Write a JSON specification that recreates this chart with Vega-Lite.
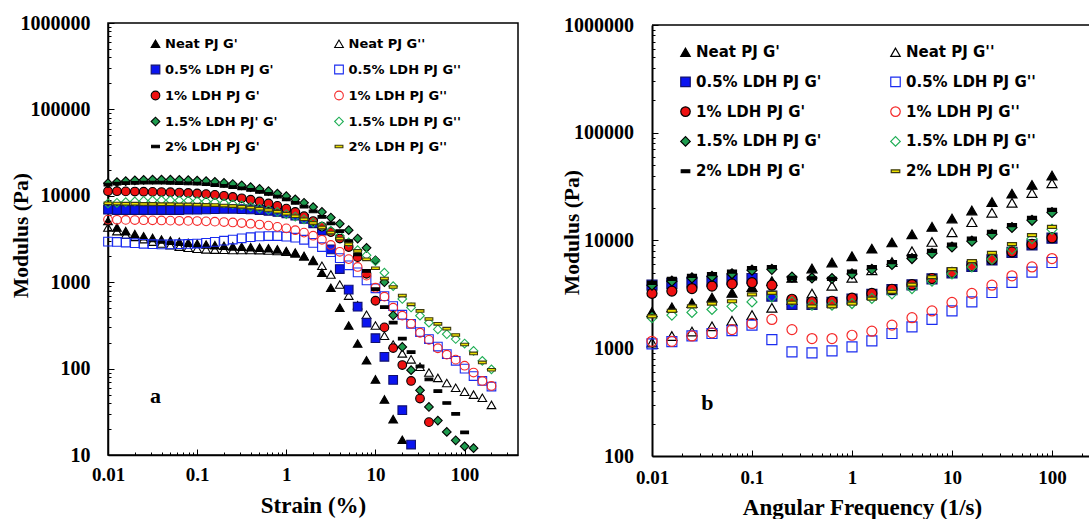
{
"$schema":"https://vega.github.io/schema/vega-lite/v6.json",
"background":"white",
"padding":{"left":9,"top":12,"right":0,"bottom":0},
"config":{
 "view":{"stroke":"black","strokeWidth":1.5},
 "axis":{"labelFont":"Liberation Serif","labelFontWeight":"bold","titleFont":"Liberation Serif","titleFontWeight":"bold","labelColor":"black","titleColor":"black","domainColor":"black","domainWidth":1.5,"tickColor":"black","tickWidth":1,"grid":false,"labelOverlap":false,"labelFlush":false}
},
"datasets":{
"a":[
{"s":"N1","x":0.01,"y":5100},{"s":"N1","x":0.0126,"y":4300},{"s":"N1","x":0.0158,"y":3900},{"s":"N1","x":0.02,"y":3600},{"s":"N1","x":0.0251,"y":3400},{"s":"N1","x":0.0316,"y":3250},{"s":"N1","x":0.0398,"y":3120},{"s":"N1","x":0.0501,"y":3030},{"s":"N1","x":0.0631,"y":2940},{"s":"N1","x":0.0794,"y":2860},{"s":"N1","x":0.1,"y":2790},{"s":"N1","x":0.126,"y":2730},{"s":"N1","x":0.158,"y":2680},{"s":"N1","x":0.2,"y":2640},{"s":"N1","x":0.251,"y":2600},{"s":"N1","x":0.316,"y":2570},{"s":"N1","x":0.398,"y":2540},{"s":"N1","x":0.501,"y":2510},{"s":"N1","x":0.631,"y":2470},{"s":"N1","x":0.794,"y":2400},{"s":"N1","x":1,"y":2290},{"s":"N1","x":1.26,"y":2200},{"s":"N1","x":1.58,"y":2000},{"s":"N1","x":2,"y":1760},{"s":"N1","x":2.51,"y":1290},{"s":"N1","x":3.16,"y":863},{"s":"N1","x":3.98,"y":507},{"s":"N1","x":5.01,"y":315},{"s":"N1","x":6.31,"y":195},{"s":"N1","x":7.94,"y":125},{"s":"N1","x":10,"y":75},{"s":"N1","x":12.6,"y":44},{"s":"N1","x":15.8,"y":26},{"s":"N1","x":20,"y":15},
{"s":"N2","x":0.01,"y":4300},{"s":"N2","x":0.0126,"y":3900},{"s":"N2","x":0.0158,"y":3550},{"s":"N2","x":0.02,"y":3350},{"s":"N2","x":0.0251,"y":3150},{"s":"N2","x":0.0316,"y":2950},{"s":"N2","x":0.0398,"y":2800},{"s":"N2","x":0.0501,"y":2680},{"s":"N2","x":0.0631,"y":2580},{"s":"N2","x":0.0794,"y":2500},{"s":"N2","x":0.1,"y":2440},{"s":"N2","x":0.126,"y":2400},{"s":"N2","x":0.158,"y":2380},{"s":"N2","x":0.2,"y":2370},{"s":"N2","x":0.251,"y":2360},{"s":"N2","x":0.316,"y":2360},{"s":"N2","x":0.398,"y":2360},{"s":"N2","x":0.501,"y":2350},{"s":"N2","x":0.631,"y":2330},{"s":"N2","x":0.794,"y":2300},{"s":"N2","x":1,"y":2250},{"s":"N2","x":1.26,"y":2150},{"s":"N2","x":1.58,"y":2000},{"s":"N2","x":2,"y":1800},{"s":"N2","x":2.51,"y":1550},{"s":"N2","x":3.16,"y":1230},{"s":"N2","x":3.98,"y":940},{"s":"N2","x":5.01,"y":700},{"s":"N2","x":6.31,"y":540},{"s":"N2","x":7.94,"y":420},{"s":"N2","x":10,"y":315},{"s":"N2","x":12.6,"y":240},{"s":"N2","x":15.8,"y":190},{"s":"N2","x":20,"y":150},{"s":"N2","x":25.1,"y":128},{"s":"N2","x":31.6,"y":105},{"s":"N2","x":39.8,"y":90},{"s":"N2","x":50.1,"y":78},{"s":"N2","x":63.1,"y":68},{"s":"N2","x":79.4,"y":60},{"s":"N2","x":100,"y":54},{"s":"N2","x":126,"y":50},{"s":"N2","x":158,"y":46},{"s":"N2","x":200,"y":38},
{"s":"A1","x":0.01,"y":6900},{"s":"A1","x":0.0126,"y":6850},{"s":"A1","x":0.0158,"y":6850},{"s":"A1","x":0.02,"y":6850},{"s":"A1","x":0.0251,"y":6850},{"s":"A1","x":0.0316,"y":6850},{"s":"A1","x":0.0398,"y":6850},{"s":"A1","x":0.0501,"y":6850},{"s":"A1","x":0.0631,"y":6850},{"s":"A1","x":0.0794,"y":6900},{"s":"A1","x":0.1,"y":6900},{"s":"A1","x":0.126,"y":6950},{"s":"A1","x":0.158,"y":7000},{"s":"A1","x":0.2,"y":7050},{"s":"A1","x":0.251,"y":7050},{"s":"A1","x":0.316,"y":7000},{"s":"A1","x":0.398,"y":6950},{"s":"A1","x":0.501,"y":6850},{"s":"A1","x":0.631,"y":6700},{"s":"A1","x":0.794,"y":6500},{"s":"A1","x":1,"y":6250},{"s":"A1","x":1.26,"y":5900},{"s":"A1","x":1.58,"y":5400},{"s":"A1","x":2,"y":4800},{"s":"A1","x":2.51,"y":3950},{"s":"A1","x":3.16,"y":2400},{"s":"A1","x":3.98,"y":1420},{"s":"A1","x":5.01,"y":820},{"s":"A1","x":6.31,"y":520},{"s":"A1","x":7.94,"y":340},{"s":"A1","x":10,"y":225},{"s":"A1","x":12.6,"y":137},{"s":"A1","x":15.8,"y":74},{"s":"A1","x":20,"y":33},{"s":"A1","x":25.1,"y":13.2},
{"s":"A2","x":0.01,"y":2950},{"s":"A2","x":0.0126,"y":2920},{"s":"A2","x":0.0158,"y":2880},{"s":"A2","x":0.02,"y":2830},{"s":"A2","x":0.0251,"y":2780},{"s":"A2","x":0.0316,"y":2750},{"s":"A2","x":0.0398,"y":2740},{"s":"A2","x":0.0501,"y":2740},{"s":"A2","x":0.0631,"y":2750},{"s":"A2","x":0.0794,"y":2770},{"s":"A2","x":0.1,"y":2800},{"s":"A2","x":0.126,"y":2850},{"s":"A2","x":0.158,"y":2930},{"s":"A2","x":0.2,"y":3020},{"s":"A2","x":0.251,"y":3120},{"s":"A2","x":0.316,"y":3220},{"s":"A2","x":0.398,"y":3320},{"s":"A2","x":0.501,"y":3390},{"s":"A2","x":0.631,"y":3420},{"s":"A2","x":0.794,"y":3420},{"s":"A2","x":1,"y":3370},{"s":"A2","x":1.26,"y":3270},{"s":"A2","x":1.58,"y":3100},{"s":"A2","x":2,"y":2850},{"s":"A2","x":2.51,"y":2550},{"s":"A2","x":3.16,"y":2230},{"s":"A2","x":3.98,"y":1900},{"s":"A2","x":5.01,"y":1570},{"s":"A2","x":6.31,"y":1300},{"s":"A2","x":7.94,"y":1050},{"s":"A2","x":10,"y":850},{"s":"A2","x":12.6,"y":690},{"s":"A2","x":15.8,"y":530},{"s":"A2","x":20,"y":420},{"s":"A2","x":25.1,"y":330},{"s":"A2","x":31.6,"y":265},{"s":"A2","x":39.8,"y":220},{"s":"A2","x":50.1,"y":180},{"s":"A2","x":63.1,"y":147},{"s":"A2","x":79.4,"y":123},{"s":"A2","x":100,"y":100},{"s":"A2","x":126,"y":82},{"s":"A2","x":158,"y":72},{"s":"A2","x":200,"y":62},
{"s":"B1","x":0.01,"y":11300},{"s":"B1","x":0.0126,"y":11300},{"s":"B1","x":0.0158,"y":11250},{"s":"B1","x":0.02,"y":11200},{"s":"B1","x":0.0251,"y":11150},{"s":"B1","x":0.0316,"y":11100},{"s":"B1","x":0.0398,"y":11050},{"s":"B1","x":0.0501,"y":11000},{"s":"B1","x":0.0631,"y":10900},{"s":"B1","x":0.0794,"y":10800},{"s":"B1","x":0.1,"y":10650},{"s":"B1","x":0.126,"y":10450},{"s":"B1","x":0.158,"y":10250},{"s":"B1","x":0.2,"y":10000},{"s":"B1","x":0.251,"y":9700},{"s":"B1","x":0.316,"y":9350},{"s":"B1","x":0.398,"y":9000},{"s":"B1","x":0.501,"y":8600},{"s":"B1","x":0.631,"y":8150},{"s":"B1","x":0.794,"y":7650},{"s":"B1","x":1,"y":7100},{"s":"B1","x":1.26,"y":6500},{"s":"B1","x":1.58,"y":5800},{"s":"B1","x":2,"y":5100},{"s":"B1","x":2.51,"y":4400},{"s":"B1","x":3.16,"y":3800},{"s":"B1","x":3.98,"y":3200},{"s":"B1","x":5.01,"y":2550},{"s":"B1","x":6.31,"y":1950},{"s":"B1","x":7.94,"y":1250},{"s":"B1","x":10,"y":610},{"s":"B1","x":12.6,"y":300},{"s":"B1","x":15.8,"y":173},{"s":"B1","x":20,"y":110},{"s":"B1","x":25.1,"y":72},{"s":"B1","x":31.6,"y":45},{"s":"B1","x":39.8,"y":24},
{"s":"B2","x":0.01,"y":5300},{"s":"B2","x":0.0126,"y":5280},{"s":"B2","x":0.0158,"y":5260},{"s":"B2","x":0.02,"y":5240},{"s":"B2","x":0.0251,"y":5220},{"s":"B2","x":0.0316,"y":5200},{"s":"B2","x":0.0398,"y":5180},{"s":"B2","x":0.0501,"y":5160},{"s":"B2","x":0.0631,"y":5140},{"s":"B2","x":0.0794,"y":5120},{"s":"B2","x":0.1,"y":5100},{"s":"B2","x":0.126,"y":5060},{"s":"B2","x":0.158,"y":5020},{"s":"B2","x":0.2,"y":4970},{"s":"B2","x":0.251,"y":4910},{"s":"B2","x":0.316,"y":4840},{"s":"B2","x":0.398,"y":4750},{"s":"B2","x":0.501,"y":4650},{"s":"B2","x":0.631,"y":4520},{"s":"B2","x":0.794,"y":4370},{"s":"B2","x":1,"y":4200},{"s":"B2","x":1.26,"y":4000},{"s":"B2","x":1.58,"y":3750},{"s":"B2","x":2,"y":3450},{"s":"B2","x":2.51,"y":3100},{"s":"B2","x":3.16,"y":2700},{"s":"B2","x":3.98,"y":2250},{"s":"B2","x":5.01,"y":1850},{"s":"B2","x":6.31,"y":1500},{"s":"B2","x":7.94,"y":1190},{"s":"B2","x":10,"y":863},{"s":"B2","x":12.6,"y":680},{"s":"B2","x":15.8,"y":507},{"s":"B2","x":20,"y":410},{"s":"B2","x":25.1,"y":330},{"s":"B2","x":31.6,"y":260},{"s":"B2","x":39.8,"y":215},{"s":"B2","x":50.1,"y":172},{"s":"B2","x":63.1,"y":145},{"s":"B2","x":79.4,"y":127},{"s":"B2","x":100,"y":108},{"s":"B2","x":126,"y":90},{"s":"B2","x":158,"y":72},{"s":"B2","x":200,"y":63},
{"s":"C1","x":0.01,"y":14000},{"s":"C1","x":0.0126,"y":14400},{"s":"C1","x":0.0158,"y":14800},{"s":"C1","x":0.02,"y":15100},{"s":"C1","x":0.0251,"y":15300},{"s":"C1","x":0.0316,"y":15400},{"s":"C1","x":0.0398,"y":15400},{"s":"C1","x":0.0501,"y":15400},{"s":"C1","x":0.0631,"y":15300},{"s":"C1","x":0.0794,"y":15200},{"s":"C1","x":0.1,"y":15000},{"s":"C1","x":0.126,"y":14800},{"s":"C1","x":0.158,"y":14500},{"s":"C1","x":0.2,"y":14100},{"s":"C1","x":0.251,"y":13700},{"s":"C1","x":0.316,"y":13200},{"s":"C1","x":0.398,"y":12600},{"s":"C1","x":0.501,"y":12000},{"s":"C1","x":0.631,"y":11300},{"s":"C1","x":0.794,"y":10600},{"s":"C1","x":1,"y":9900},{"s":"C1","x":1.26,"y":9100},{"s":"C1","x":1.58,"y":8300},{"s":"C1","x":2,"y":7400},{"s":"C1","x":2.51,"y":6500},{"s":"C1","x":3.16,"y":5600},{"s":"C1","x":3.98,"y":4750},{"s":"C1","x":5.01,"y":4000},{"s":"C1","x":6.31,"y":3200},{"s":"C1","x":7.94,"y":2500},{"s":"C1","x":10,"y":1790},{"s":"C1","x":12.6,"y":1000},{"s":"C1","x":15.8,"y":414},{"s":"C1","x":20,"y":178},{"s":"C1","x":25.1,"y":96},{"s":"C1","x":31.6,"y":56},{"s":"C1","x":39.8,"y":36},{"s":"C1","x":50.1,"y":25},{"s":"C1","x":63.1,"y":18.5},{"s":"C1","x":79.4,"y":14.8},{"s":"C1","x":100,"y":12.6},{"s":"C1","x":126,"y":12},
{"s":"C2","x":0.01,"y":8150},{"s":"C2","x":0.0126,"y":8300},{"s":"C2","x":0.0158,"y":8450},{"s":"C2","x":0.02,"y":8600},{"s":"C2","x":0.0251,"y":8750},{"s":"C2","x":0.0316,"y":8850},{"s":"C2","x":0.0398,"y":8900},{"s":"C2","x":0.0501,"y":8900},{"s":"C2","x":0.0631,"y":8850},{"s":"C2","x":0.0794,"y":8800},{"s":"C2","x":0.1,"y":8700},{"s":"C2","x":0.126,"y":8600},{"s":"C2","x":0.158,"y":8450},{"s":"C2","x":0.2,"y":8250},{"s":"C2","x":0.251,"y":8000},{"s":"C2","x":0.316,"y":7750},{"s":"C2","x":0.398,"y":7450},{"s":"C2","x":0.501,"y":7150},{"s":"C2","x":0.631,"y":6850},{"s":"C2","x":0.794,"y":6500},{"s":"C2","x":1,"y":6150},{"s":"C2","x":1.26,"y":5750},{"s":"C2","x":1.58,"y":5350},{"s":"C2","x":2,"y":4900},{"s":"C2","x":2.51,"y":4450},{"s":"C2","x":3.16,"y":3950},{"s":"C2","x":3.98,"y":3450},{"s":"C2","x":5.01,"y":2900},{"s":"C2","x":6.31,"y":2350},{"s":"C2","x":7.94,"y":2050},{"s":"C2","x":10,"y":1750},{"s":"C2","x":12.6,"y":1290},{"s":"C2","x":15.8,"y":900},{"s":"C2","x":20,"y":640},{"s":"C2","x":25.1,"y":510},{"s":"C2","x":31.6,"y":410},{"s":"C2","x":39.8,"y":340},{"s":"C2","x":50.1,"y":285},{"s":"C2","x":63.1,"y":250},{"s":"C2","x":79.4,"y":220},{"s":"C2","x":100,"y":195},{"s":"C2","x":126,"y":160},{"s":"C2","x":158,"y":123},{"s":"C2","x":200,"y":98},
{"s":"D1","x":0.01,"y":13500},{"s":"D1","x":0.0126,"y":13800},{"s":"D1","x":0.0158,"y":14000},{"s":"D1","x":0.02,"y":14100},{"s":"D1","x":0.0251,"y":14200},{"s":"D1","x":0.0316,"y":14200},{"s":"D1","x":0.0398,"y":14200},{"s":"D1","x":0.0501,"y":14100},{"s":"D1","x":0.0631,"y":14000},{"s":"D1","x":0.0794,"y":13900},{"s":"D1","x":0.1,"y":13800},{"s":"D1","x":0.126,"y":13600},{"s":"D1","x":0.158,"y":13300},{"s":"D1","x":0.2,"y":13000},{"s":"D1","x":0.251,"y":12600},{"s":"D1","x":0.316,"y":12200},{"s":"D1","x":0.398,"y":11700},{"s":"D1","x":0.501,"y":11100},{"s":"D1","x":0.631,"y":10500},{"s":"D1","x":0.794,"y":9800},{"s":"D1","x":1,"y":9100},{"s":"D1","x":1.26,"y":8300},{"s":"D1","x":1.58,"y":7500},{"s":"D1","x":2,"y":6600},{"s":"D1","x":2.51,"y":5700},{"s":"D1","x":3.16,"y":4800},{"s":"D1","x":3.98,"y":3900},{"s":"D1","x":5.01,"y":3000},{"s":"D1","x":6.31,"y":2100},{"s":"D1","x":7.94,"y":1350},{"s":"D1","x":10,"y":830},{"s":"D1","x":12.6,"y":515},{"s":"D1","x":15.8,"y":340},{"s":"D1","x":20,"y":222},{"s":"D1","x":25.1,"y":155},{"s":"D1","x":31.6,"y":106},{"s":"D1","x":39.8,"y":75},{"s":"D1","x":50.1,"y":55},{"s":"D1","x":63.1,"y":40},{"s":"D1","x":79.4,"y":30},{"s":"D1","x":100,"y":18.3},
{"s":"D2","x":0.01,"y":8200},{"s":"D2","x":0.0126,"y":8150},{"s":"D2","x":0.0158,"y":8100},{"s":"D2","x":0.02,"y":8100},{"s":"D2","x":0.0251,"y":8050},{"s":"D2","x":0.0316,"y":8050},{"s":"D2","x":0.0398,"y":8000},{"s":"D2","x":0.0501,"y":8000},{"s":"D2","x":0.0631,"y":7950},{"s":"D2","x":0.0794,"y":7950},{"s":"D2","x":0.1,"y":7900},{"s":"D2","x":0.126,"y":7850},{"s":"D2","x":0.158,"y":7800},{"s":"D2","x":0.2,"y":7700},{"s":"D2","x":0.251,"y":7600},{"s":"D2","x":0.316,"y":7450},{"s":"D2","x":0.398,"y":7300},{"s":"D2","x":0.501,"y":7100},{"s":"D2","x":0.631,"y":6850},{"s":"D2","x":0.794,"y":6550},{"s":"D2","x":1,"y":6200},{"s":"D2","x":1.26,"y":5800},{"s":"D2","x":1.58,"y":5350},{"s":"D2","x":2,"y":4850},{"s":"D2","x":2.51,"y":4300},{"s":"D2","x":3.16,"y":3750},{"s":"D2","x":3.98,"y":3200},{"s":"D2","x":5.01,"y":2750},{"s":"D2","x":6.31,"y":2300},{"s":"D2","x":7.94,"y":1840},{"s":"D2","x":10,"y":1450},{"s":"D2","x":12.6,"y":1100},{"s":"D2","x":15.8,"y":880},{"s":"D2","x":20,"y":700},{"s":"D2","x":25.1,"y":555},{"s":"D2","x":31.6,"y":465},{"s":"D2","x":39.8,"y":375},{"s":"D2","x":50.1,"y":330},{"s":"D2","x":63.1,"y":290},{"s":"D2","x":79.4,"y":245},{"s":"D2","x":100,"y":190},{"s":"D2","x":126,"y":150},{"s":"D2","x":158,"y":118},{"s":"D2","x":200,"y":97}
],
"b":[
{"s":"N1","x":0.01,"y":2170},{"s":"N1","x":0.0158,"y":2400},{"s":"N1","x":0.0251,"y":2620},{"s":"N1","x":0.0398,"y":2950},{"s":"N1","x":0.0631,"y":3270},{"s":"N1","x":0.1,"y":3700},{"s":"N1","x":0.158,"y":4200},{"s":"N1","x":0.251,"y":4500},{"s":"N1","x":0.398,"y":5500},{"s":"N1","x":0.631,"y":6250},{"s":"N1","x":1,"y":7150},{"s":"N1","x":1.58,"y":8400},{"s":"N1","x":2.51,"y":9600},{"s":"N1","x":3.98,"y":11400},{"s":"N1","x":6.31,"y":13400},{"s":"N1","x":10,"y":16000},{"s":"N1","x":15.8,"y":19000},{"s":"N1","x":25.1,"y":22700},{"s":"N1","x":39.8,"y":27200},{"s":"N1","x":63.1,"y":32800},{"s":"N1","x":100,"y":40000},
{"s":"N2","x":0.01,"y":1130},{"s":"N2","x":0.0158,"y":1300},{"s":"N2","x":0.0251,"y":1430},{"s":"N2","x":0.0398,"y":1600},{"s":"N2","x":0.0631,"y":1800},{"s":"N2","x":0.1,"y":2030},{"s":"N2","x":0.158,"y":2370},{"s":"N2","x":0.251,"y":2800},{"s":"N2","x":0.398,"y":3220},{"s":"N2","x":0.631,"y":3800},{"s":"N2","x":1,"y":4500},{"s":"N2","x":1.58,"y":5300},{"s":"N2","x":2.51,"y":6300},{"s":"N2","x":3.98,"y":7950},{"s":"N2","x":6.31,"y":9700},{"s":"N2","x":10,"y":11900},{"s":"N2","x":15.8,"y":14800},{"s":"N2","x":25.1,"y":18100},{"s":"N2","x":39.8,"y":22400},{"s":"N2","x":63.1,"y":27600},{"s":"N2","x":100,"y":34000},
{"s":"A1","x":0.01,"y":3850},{"s":"A1","x":0.0158,"y":4000},{"s":"A1","x":0.0251,"y":4100},{"s":"A1","x":0.0398,"y":4190},{"s":"A1","x":0.0631,"y":4340},{"s":"A1","x":0.1,"y":4440},{"s":"A1","x":0.158,"y":3050},{"s":"A1","x":0.251,"y":2550},{"s":"A1","x":0.398,"y":2550},{"s":"A1","x":0.631,"y":2660},{"s":"A1","x":1,"y":2860},{"s":"A1","x":1.58,"y":3160},{"s":"A1","x":2.51,"y":3500},{"s":"A1","x":3.98,"y":3880},{"s":"A1","x":6.31,"y":4400},{"s":"A1","x":10,"y":5000},{"s":"A1","x":15.8,"y":5750},{"s":"A1","x":25.1,"y":6600},{"s":"A1","x":39.8,"y":7750},{"s":"A1","x":63.1,"y":9100},{"s":"A1","x":100,"y":10500},
{"s":"A2","x":0.01,"y":1100},{"s":"A2","x":0.0158,"y":1150},{"s":"A2","x":0.0251,"y":1300},{"s":"A2","x":0.0398,"y":1370},{"s":"A2","x":0.0631,"y":1460},{"s":"A2","x":0.1,"y":1640},{"s":"A2","x":0.158,"y":1200},{"s":"A2","x":0.251,"y":925},{"s":"A2","x":0.398,"y":905},{"s":"A2","x":0.631,"y":945},{"s":"A2","x":1,"y":1030},{"s":"A2","x":1.58,"y":1170},{"s":"A2","x":2.51,"y":1370},{"s":"A2","x":3.98,"y":1580},{"s":"A2","x":6.31,"y":1850},{"s":"A2","x":10,"y":2220},{"s":"A2","x":15.8,"y":2690},{"s":"A2","x":25.1,"y":3290},{"s":"A2","x":39.8,"y":4080},{"s":"A2","x":63.1,"y":5080},{"s":"A2","x":100,"y":6250},
{"s":"B1","x":0.01,"y":3230},{"s":"B1","x":0.0158,"y":3390},{"s":"B1","x":0.0251,"y":3580},{"s":"B1","x":0.0398,"y":3770},{"s":"B1","x":0.0631,"y":3960},{"s":"B1","x":0.1,"y":4060},{"s":"B1","x":0.158,"y":3850},{"s":"B1","x":0.251,"y":2850},{"s":"B1","x":0.398,"y":2700},{"s":"B1","x":0.631,"y":2730},{"s":"B1","x":1,"y":2920},{"s":"B1","x":1.58,"y":3230},{"s":"B1","x":2.51,"y":3530},{"s":"B1","x":3.98,"y":3900},{"s":"B1","x":6.31,"y":4440},{"s":"B1","x":10,"y":5050},{"s":"B1","x":15.8,"y":5810},{"s":"B1","x":25.1,"y":6670},{"s":"B1","x":39.8,"y":7850},{"s":"B1","x":63.1,"y":9200},{"s":"B1","x":100,"y":10600},
{"s":"B2","x":0.01,"y":1160},{"s":"B2","x":0.0158,"y":1160},{"s":"B2","x":0.0251,"y":1300},{"s":"B2","x":0.0398,"y":1390},{"s":"B2","x":0.0631,"y":1490},{"s":"B2","x":0.1,"y":1700},{"s":"B2","x":0.158,"y":1850},{"s":"B2","x":0.251,"y":1490},{"s":"B2","x":0.398,"y":1230},{"s":"B2","x":0.631,"y":1230},{"s":"B2","x":1,"y":1320},{"s":"B2","x":1.58,"y":1440},{"s":"B2","x":2.51,"y":1640},{"s":"B2","x":3.98,"y":1920},{"s":"B2","x":6.31,"y":2220},{"s":"B2","x":10,"y":2660},{"s":"B2","x":15.8,"y":3230},{"s":"B2","x":25.1,"y":3850},{"s":"B2","x":39.8,"y":4700},{"s":"B2","x":63.1,"y":5680},{"s":"B2","x":100,"y":6800},
{"s":"C1","x":0.01,"y":3850},{"s":"C1","x":0.0158,"y":4190},{"s":"C1","x":0.0251,"y":4490},{"s":"C1","x":0.0398,"y":4640},{"s":"C1","x":0.0631,"y":4910},{"s":"C1","x":0.1,"y":5300},{"s":"C1","x":0.158,"y":5400},{"s":"C1","x":0.251,"y":4580},{"s":"C1","x":0.398,"y":4490},{"s":"C1","x":0.631,"y":4440},{"s":"C1","x":1,"y":4900},{"s":"C1","x":1.58,"y":5400},{"s":"C1","x":2.51,"y":6000},{"s":"C1","x":3.98,"y":6800},{"s":"C1","x":6.31,"y":7600},{"s":"C1","x":10,"y":8700},{"s":"C1","x":15.8,"y":9860},{"s":"C1","x":25.1,"y":11400},{"s":"C1","x":39.8,"y":13200},{"s":"C1","x":63.1,"y":15400},{"s":"C1","x":100,"y":18200},
{"s":"C2","x":0.01,"y":1920},{"s":"C2","x":0.0158,"y":2030},{"s":"C2","x":0.0251,"y":2150},{"s":"C2","x":0.0398,"y":2290},{"s":"C2","x":0.0631,"y":2450},{"s":"C2","x":0.1,"y":2690},{"s":"C2","x":0.158,"y":3000},{"s":"C2","x":0.251,"y":2700},{"s":"C2","x":0.398,"y":2510},{"s":"C2","x":0.631,"y":2510},{"s":"C2","x":1,"y":2600},{"s":"C2","x":1.58,"y":2900},{"s":"C2","x":2.51,"y":3200},{"s":"C2","x":3.98,"y":3580},{"s":"C2","x":6.31,"y":4190},{"s":"C2","x":10,"y":4910},{"s":"C2","x":15.8,"y":5680},{"s":"C2","x":25.1,"y":6710},{"s":"C2","x":39.8,"y":8310},{"s":"C2","x":63.1,"y":10400},{"s":"C2","x":100,"y":12700},
{"s":"D1","x":0.01,"y":4050},{"s":"D1","x":0.0158,"y":4400},{"s":"D1","x":0.0251,"y":4700},{"s":"D1","x":0.0398,"y":4880},{"s":"D1","x":0.0631,"y":5150},{"s":"D1","x":0.1,"y":5550},{"s":"D1","x":0.158,"y":5650},{"s":"D1","x":0.251,"y":4500},{"s":"D1","x":0.398,"y":4450},{"s":"D1","x":0.631,"y":4400},{"s":"D1","x":1,"y":5150},{"s":"D1","x":1.58,"y":5650},{"s":"D1","x":2.51,"y":6300},{"s":"D1","x":3.98,"y":7150},{"s":"D1","x":6.31,"y":8000},{"s":"D1","x":10,"y":9150},{"s":"D1","x":15.8,"y":10400},{"s":"D1","x":25.1,"y":12000},{"s":"D1","x":39.8,"y":13900},{"s":"D1","x":63.1,"y":16200},{"s":"D1","x":100,"y":19200},
{"s":"D2","x":0.01,"y":1980},{"s":"D2","x":0.0158,"y":2220},{"s":"D2","x":0.0251,"y":2450},{"s":"D2","x":0.0398,"y":2600},{"s":"D2","x":0.0631,"y":2730},{"s":"D2","x":0.1,"y":3160},{"s":"D2","x":0.158,"y":3270},{"s":"D2","x":0.251,"y":2650},{"s":"D2","x":0.398,"y":2450},{"s":"D2","x":0.631,"y":2450},{"s":"D2","x":1,"y":2600},{"s":"D2","x":1.58,"y":2890},{"s":"D2","x":2.51,"y":3340},{"s":"D2","x":3.98,"y":3900},{"s":"D2","x":6.31,"y":4580},{"s":"D2","x":10,"y":5420},{"s":"D2","x":15.8,"y":6430},{"s":"D2","x":25.1,"y":7690},{"s":"D2","x":39.8,"y":9270},{"s":"D2","x":63.1,"y":11200},{"s":"D2","x":100,"y":13400}
]
},
"spacing":42,
"resolve":{"scale":{"shape":"independent","fill":"independent","stroke":"independent"},"legend":{"shape":"independent","fill":"independent","stroke":"independent"}},
"hconcat":[
{
 "width":410,"height":432,
 "data":{"name":"a"},
 "layer":[
  {"mark":{"type":"point","filled":true,"opacity":1,"size":75,"strokeWidth":1.1},
   "encoding":{
    "x":{"field":"x","type":"quantitative","title":"Strain (%)","scale":{"type":"log","domain":[0.01,397],"nice":false},
     "axis":{"values":[0.01,0.02,0.03,0.04,0.05,0.06,0.07,0.08,0.09,0.1,0.2,0.3,0.4,0.5,0.6,0.7,0.8,0.9,1,2,3,4,5,6,7,8,9,10,20,30,40,50,60,70,80,90,100,200,300],
      "labelExpr":"abs(log(datum.value)/LN10-round(log(datum.value)/LN10))<0.001 ? format(datum.value,'~f') : ''",
      "tickSize":{"condition":{"test":"abs(log(datum.value)/LN10-round(log(datum.value)/LN10))<0.001","value":-6},"value":-3},
      "labelPadding":16.5,"labelFontSize":19,"titleFontSize":23,"titleX":205,"titleY":50,"titleBaseline":"middle","titleAlign":"center"}},
    "y":{"field":"y","type":"quantitative","title":"Modulus (Pa)","scale":{"type":"log","domain":[10,1000000],"nice":false},
     "axis":{"values":[10,20,30,40,50,60,70,80,90,100,200,300,400,500,600,700,800,900,1000,2000,3000,4000,5000,6000,7000,8000,9000,10000,20000,30000,40000,50000,60000,70000,80000,90000,100000,200000,300000,400000,500000,600000,700000,800000,900000,1000000],
      "labelExpr":"abs(log(datum.value)/LN10-round(log(datum.value)/LN10))<0.001 ? format(datum.value,'d') : ''",
      "tickSize":{"condition":{"test":"abs(log(datum.value)/LN10-round(log(datum.value)/LN10))<0.001","value":-6},"value":-3},
      "labelPadding":24,"labelFontSize":20,"titleFontSize":21.5,"titleX":-87,"titleY":212,"titleBaseline":"middle","titleAlign":"center","titleAngle":270}},
    "shape":{"field":"s","type":"nominal","title":null,"scale":{"domain":["N1","A1","B1","C1","D1","N2","A2","B2","C2","D2"],"range":["triangle-up","square","circle","diamond","M-0.9,-0.3L0.9,-0.3L0.9,0.3L-0.9,0.3Z","triangle-up","square","circle","diamond","M-0.9,-0.3L0.9,-0.3L0.9,0.3L-0.9,0.3Z"]},
     "legend":{"orient":"none","legendX":41,"legendY":14,"columns":2,"columnPadding":53.5,"rowPadding":11,"padding":0,"labelFont":"DejaVu Sans","labelFontWeight":"bold","labelFontSize":13,"labelColor":"black","symbolSize":75,"symbolStrokeWidth":1.1,"labelOffset":3,
      "labelExpr":"datum.label=='N1'?\"Neat PJ G'\":datum.label=='N2'?\"Neat PJ G''\":datum.label=='A1'?\"0.5% LDH PJ G'\":datum.label=='A2'?\"0.5% LDH PJ G''\":datum.label=='B1'?\"1% LDH PJ G'\":datum.label=='B2'?\"1% LDH PJ G''\":datum.label=='C1'?\"1.5% LDH PJ' G'\":datum.label=='C2'?\"1.5% LDH PJ G''\":datum.label=='D1'?\"2% LDH PJ G'\":\"2% LDH PJ G''\""}},
    "fill":{"field":"s","type":"nominal","title":null,"scale":{"domain":["N1","A1","B1","C1","D1","N2","A2","B2","C2","D2"],"range":["#000000","#0a14f0","#ee1111","#1e9b4e","#000000","transparent","transparent","transparent","transparent","#ece000"]}},
    "stroke":{"field":"s","type":"nominal","title":null,"scale":{"domain":["N1","A1","B1","C1","D1","N2","A2","B2","C2","D2"],"range":["#000000","#101070","#000000","#000000","#000000","#000000","#1a2cf0","#f52a2a","#1fae55","#3c3a10"]}}
   }},
  {"data":{"values":[{"x":0.034,"y":48,"t":"a"}]},
   "mark":{"type":"text","font":"Liberation Serif","fontWeight":"bold","fontSize":22,"color":"black"},
   "encoding":{"x":{"field":"x","type":"quantitative","title":"Strain (%)"},"y":{"field":"y","type":"quantitative","title":"Modulus (Pa)"},"text":{"field":"t"}}}
 ]
},
{
 "vconcat":[
  {"width":10,"height":2,"data":{"values":[]},"mark":"point","view":{"stroke":null}},
  {
   "width":438,"height":431,
   "view":{"stroke":null},
   "data":{"name":"b"},
   "layer":[
    {"data":{"values":[{"y":1000000}]},"mark":{"type":"rule","color":"black","strokeWidth":1.5},"encoding":{"y":{"field":"y","type":"quantitative","title":"Modulus (Pa)"}}},
    {"mark":{"type":"point","filled":true,"opacity":1,"size":100,"strokeWidth":1.2},
     "encoding":{
      "x":{"field":"x","type":"quantitative","title":"Angular Frequency (1/s)","scale":{"type":"log","domain":[0.01,239.9],"nice":false},
       "axis":{"values":[0.01,0.02,0.03,0.04,0.05,0.06,0.07,0.08,0.09,0.1,0.2,0.3,0.4,0.5,0.6,0.7,0.8,0.9,1,2,3,4,5,6,7,8,9,10,20,30,40,50,60,70,80,90,100,200],
        "labelExpr":"abs(log(datum.value)/LN10-round(log(datum.value)/LN10))<0.001 ? format(datum.value,'~f') : ''",
        "tickSize":{"condition":{"test":"abs(log(datum.value)/LN10-round(log(datum.value)/LN10))<0.001","value":-6},"value":-3},
        "labelPadding":18,"labelFontSize":19,"titleFontSize":23,"titleX":210,"titleY":51,"titleBaseline":"middle","titleAlign":"center","domainWidth":2}},
      "y":{"field":"y","type":"quantitative","title":"Modulus (Pa)","scale":{"type":"log","domain":[100,1000000],"nice":false},
       "axis":{"values":[100,200,300,400,500,600,700,800,900,1000,2000,3000,4000,5000,6000,7000,8000,9000,10000,20000,30000,40000,50000,60000,70000,80000,90000,100000,200000,300000,400000,500000,600000,700000,800000,900000,1000000],
        "labelExpr":"abs(log(datum.value)/LN10-round(log(datum.value)/LN10))<0.001 ? format(datum.value,'d') : ''",
        "tickSize":{"condition":{"test":"abs(log(datum.value)/LN10-round(log(datum.value)/LN10))<0.001","value":-6},"value":-3},
        "labelPadding":24.5,"labelFontSize":20,"titleFontSize":21.5,"titleX":-80,"titleY":207,"titleBaseline":"middle","titleAlign":"center","titleAngle":270,"domainWidth":2}},
      "shape":{"field":"s","type":"nominal","title":null,"scale":{"domain":["N1","A1","B1","C1","D1","N2","A2","B2","C2","D2"],"range":["triangle-up","square","circle","diamond","M-0.9,-0.3L0.9,-0.3L0.9,0.3L-0.9,0.3Z","triangle-up","square","circle","diamond","M-0.9,-0.3L0.9,-0.3L0.9,0.3L-0.9,0.3Z"]},
       "legend":{"orient":"none","legendX":26,"legendY":19.5,"columns":2,"columnPadding":66,"rowPadding":13.8,"padding":0,"labelFont":"DejaVu Sans","labelFontWeight":"bold","labelFontSize":15,"labelColor":"black","symbolSize":90,"symbolStrokeWidth":1.2,"labelOffset":3,
        "labelExpr":"datum.label=='N1'?\"Neat PJ  G'\":datum.label=='N2'?\"Neat PJ G''\":datum.label=='A1'?\"0.5% LDH PJ G'\":datum.label=='A2'?\"0.5%  LDH PJ G''\":datum.label=='B1'?\"1% LDH PJ G'\":datum.label=='B2'?\"1% LDH PJ G''\":datum.label=='C1'?\"1.5% LDH PJ G'\":datum.label=='C2'?\"1.5% LDH PJ G''\":datum.label=='D1'?\"2% LDH PJ G'\":\"2% LDH PJ G''\""}},
      "fill":{"field":"s","type":"nominal","title":null,"scale":{"domain":["N1","A1","B1","C1","D1","N2","A2","B2","C2","D2"],"range":["#000000","#0a14f0","#ee1111","#1e9b4e","#000000","transparent","transparent","transparent","transparent","#ece000"]}},
      "stroke":{"field":"s","type":"nominal","title":null,"scale":{"domain":["N1","A1","B1","C1","D1","N2","A2","B2","C2","D2"],"range":["#000000","#101070","#000000","#000000","#000000","#000000","#1a2cf0","#f52a2a","#1fae55","#3c3a10"]}}
     }},
    {"data":{"values":[{"x":0.0357,"y":311,"t":"b"}]},
     "mark":{"type":"text","font":"Liberation Serif","fontWeight":"bold","fontSize":22,"color":"black"},
     "encoding":{"x":{"field":"x","type":"quantitative","title":"Angular Frequency (1/s)"},"y":{"field":"y","type":"quantitative","title":"Modulus (Pa)"},"text":{"field":"t"}}}
   ]
  }
 ],
 "spacing":0,
 "bounds":"flush",
 "resolve":{"scale":{"shape":"independent","fill":"independent","stroke":"independent"},"legend":{"shape":"independent","fill":"independent","stroke":"independent"}}
}
]
}
